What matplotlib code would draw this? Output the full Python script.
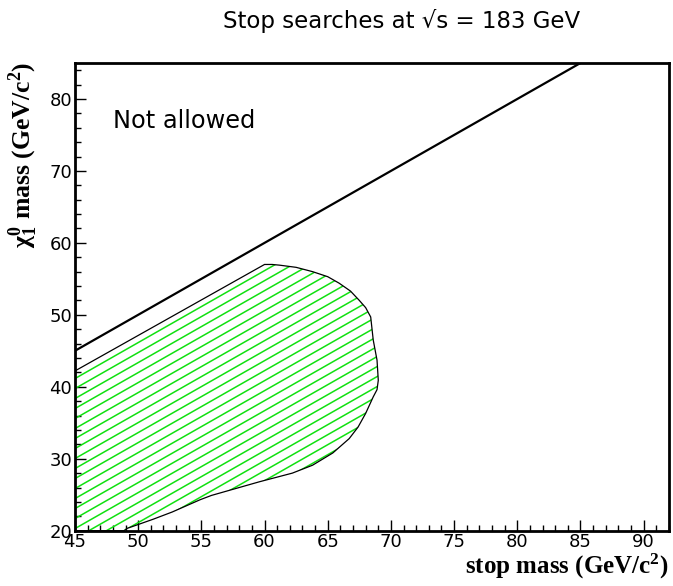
import numpy as np
import matplotlib
matplotlib.use("Agg")
import matplotlib.pyplot as plt
from matplotlib.patches import Polygon
from matplotlib.ticker import MultipleLocator

# Excluded region in the (stop mass, neutralino mass) plane
excl_stop = [45.0, 60.0, 60.6, 61.2, 62.5, 63.8, 65.0, 65.9, 66.8, 67.5, 68.0,
             68.4, 68.6, 68.9, 69.0, 68.9, 68.6, 68.0, 67.4, 66.7, 65.4, 63.8,
             62.2, 59.6, 57.0, 55.8, 54.9, 52.7, 51.2, 49.1, 48.9, 45.0]
excl_chi = [42.2, 57.0, 57.0, 56.9, 56.6, 56.0, 55.3, 54.4, 53.3, 52.0, 51.0,
            49.7, 46.5, 43.7, 40.9, 39.6, 38.6, 36.3, 34.4, 32.8, 30.8, 29.1,
            28.0, 26.8, 25.5, 24.9, 24.3, 22.6, 21.6, 20.3, 20.0, 20.0]

# kinematic limit m_chi = m_stop
kin_stop = [45.0, 85.0]
kin_chi = [45.0, 85.0]

xticks = [45, 50, 55, 60, 65, 70, 75, 80, 85, 90]
yticks = [20, 30, 40, 50, 60, 70, 80]

plt.rcParams["mathtext.fontset"] = "custom"
plt.rcParams["mathtext.rm"] = "Liberation Serif:bold"
plt.rcParams["mathtext.it"] = "Liberation Serif:bold"
plt.rcParams["mathtext.bf"] = "Liberation Serif:bold"

fig = plt.figure(figsize=(6.73, 5.86), dpi=100)
ax = fig.add_axes([0.1114, 0.0944, 0.8826, 0.7981])

ax.set_xlim(45, 92)
ax.set_ylim(20, 85)

# hatched excluded area
poly = Polygon(np.column_stack([excl_stop, excl_chi]), closed=True,
               facecolor="none", edgecolor="black", linewidth=0.9, zorder=3)
ax.add_patch(poly)
for c in np.arange(-40, 10, 1.39):
    ln, = ax.plot([20, 100], [20 + c, 100 + c], color="#11e011", lw=1.1,
                  zorder=2)
    ln.set_clip_path(poly)

ax.plot(kin_stop, kin_chi, color="black", lw=1.6, zorder=4)

ax.text(48.0, 75.9, "Not allowed", fontsize=17.3, family="DejaVu Sans",
        va="baseline", ha="left")

fig.text(0.597, 0.964, "Stop searches at \u221as = 183 GeV", fontsize=16.5,
         family="DejaVu Sans", ha="center", va="center")

ax.set_xticks(xticks)
ax.set_yticks(yticks)
ax.xaxis.set_minor_locator(MultipleLocator(1))
ax.yaxis.set_minor_locator(MultipleLocator(2))
ax.tick_params(which="both", direction="in", top=False, right=False,
               labelsize=13, width=1)
ax.tick_params(which="major", length=8)
ax.tick_params(which="minor", length=4.5)
for lab in ax.get_xticklabels() + ax.get_yticklabels():
    lab.set_family("DejaVu Sans")
ax.tick_params(axis="x", pad=2)
ax.tick_params(axis="y", pad=2)
for sp in ax.spines.values():
    sp.set_linewidth(2.0)

fig.text(0.994, 0.008, r"stop mass (GeV/c$^{\mathbf{2}}$)", fontsize=18,
         family="Liberation Serif", weight="bold", ha="right", va="bottom")
fig.text(0.010, 0.895, r"$\chi_1^0$ mass (GeV/c$^{\mathbf{2}}$)", fontsize=18.5,
         family="Liberation Serif", weight="bold", rotation=90,
         ha="left", va="top")

fig.savefig("out.png", dpi=100)
